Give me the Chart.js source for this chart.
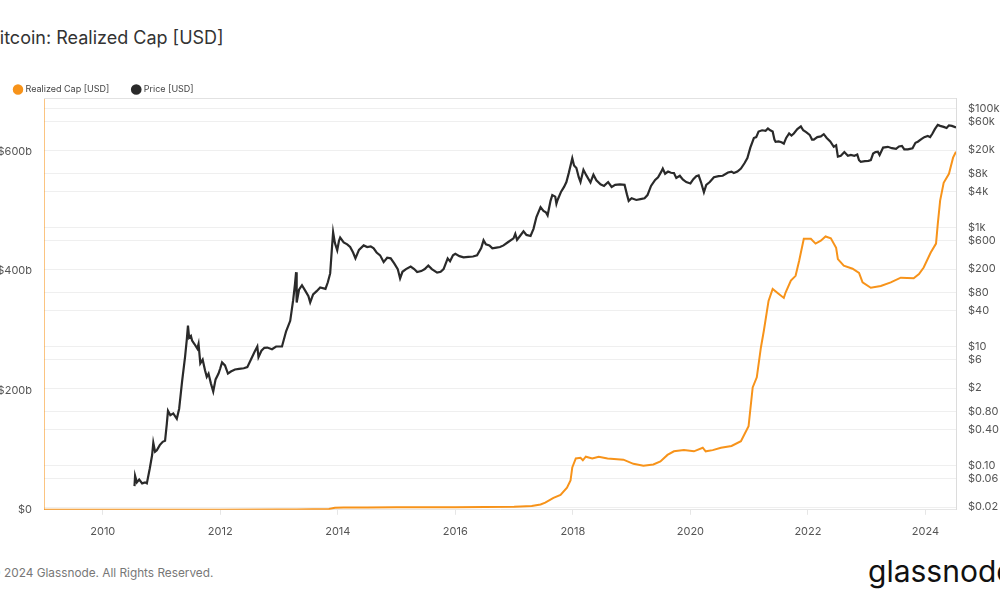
<!DOCTYPE html>
<html>
<head>
<meta charset="utf-8">
<script src="https://cdn.jsdelivr.net/npm/chart.js@4.4.1/dist/chart.umd.min.js"></script>
<style>
  body { margin: 0; width: 1000px; height: 600px; overflow: hidden; background: #fff; position: relative; font-family: Inter, "Noto Sans", sans-serif; }
  #title { position: absolute; left: -12px; top: 27px; font-size: 18px; color: #333; white-space: nowrap; }
  #chartBox { position: absolute; left: 0; top: 61px; width: 1000px; height: 487px; }
  #footer { position: absolute; left: -10px; top: 566px; font-size: 11.8px; color: #777; white-space: nowrap; }
  #logo { position: absolute; left: 868px; top: 553px; font-size: 30px; color: #111; white-space: nowrap; }
</style>
</head>
<body>
<div id="title">Bitcoin: Realized Cap [USD]</div>
<div id="chartBox"><canvas id="myChart"></canvas></div>
<div id="footer">© 2024 Glassnode. All Rights Reserved.</div>
<div id="logo">glassnode</div>
<script>
// [year, USD billions]
const realizedCap = [
  [2009.0, 0], [2010.5, 0.01], [2011.4, 0.1], [2012.0, 0.15], [2013.0, 0.3], [2013.3, 0.6],
  [2013.85, 1.2], [2013.95, 3.5], [2014.1, 3.8], [2014.5, 4.0], [2015.0, 4.1], [2015.5, 4.2],
  [2016.0, 4.4], [2016.5, 4.8], [2017.0, 5.2], [2017.11, 5.6], [2017.3, 6.5], [2017.45, 9],
  [2017.53, 12], [2017.67, 20], [2017.79, 25], [2017.9, 37], [2017.96, 49], [2017.99, 71],
  [2018.05, 86], [2018.13, 87], [2018.17, 83], [2018.22, 89], [2018.33, 86], [2018.44, 89],
  [2018.59, 86], [2018.86, 84], [2019.03, 77], [2019.2, 74], [2019.37, 76], [2019.49, 81],
  [2019.61, 92], [2019.72, 98], [2019.89, 100], [2020.06, 98], [2020.21, 104], [2020.26, 98],
  [2020.38, 100], [2020.52, 104], [2020.7, 107], [2020.86, 115], [2020.99, 140], [2021.06, 205],
  [2021.13, 222], [2021.2, 272], [2021.25, 300], [2021.33, 350], [2021.4, 370], [2021.5, 362],
  [2021.59, 355], [2021.62, 364], [2021.71, 384], [2021.79, 392], [2021.85, 417], [2021.93, 454],
  [2022.05, 454], [2022.13, 446], [2022.22, 451], [2022.3, 458], [2022.39, 455], [2022.48, 439],
  [2022.51, 420], [2022.61, 409], [2022.76, 404], [2022.87, 397], [2022.93, 381], [2023.07, 372],
  [2023.24, 375], [2023.41, 381], [2023.58, 389], [2023.8, 388], [2023.89, 395], [2023.97, 406],
  [2024.09, 431], [2024.18, 446], [2024.21, 479], [2024.25, 518], [2024.31, 548], [2024.4, 563],
  [2024.47, 590], [2024.52, 600]
];

// [year, USD]
const price = [
  [2010.54, 0.045], [2010.55, 0.067], [2010.58, 0.052], [2010.62, 0.058], [2010.67, 0.05], [2010.72, 0.052],
  [2010.75, 0.05], [2010.8, 0.089], [2010.84, 0.15], [2010.86, 0.24], [2010.89, 0.17], [2010.92, 0.18],
  [2010.97, 0.22], [2011.02, 0.25], [2011.06, 0.26], [2011.09, 0.5], [2011.11, 0.83], [2011.15, 0.7],
  [2011.2, 0.75], [2011.26, 0.61], [2011.3, 0.9], [2011.35, 2.6], [2011.4, 6.6], [2011.43, 13],
  [2011.45, 22.5], [2011.47, 14], [2011.5, 15], [2011.52, 12.6], [2011.56, 11], [2011.61, 9.2],
  [2011.63, 11], [2011.66, 5.2], [2011.7, 6], [2011.74, 4], [2011.77, 3.1], [2011.8, 3.5],
  [2011.84, 2.4], [2011.88, 1.75], [2011.92, 2.8], [2011.97, 3.5], [2012.0, 4.3], [2012.03, 5.4],
  [2012.08, 4.8], [2012.13, 3.5], [2012.18, 3.8], [2012.25, 4.1], [2012.32, 4.2], [2012.4, 4.3],
  [2012.46, 4.5], [2012.52, 6], [2012.58, 8], [2012.63, 10], [2012.65, 6.6], [2012.7, 8.5],
  [2012.75, 9.5], [2012.8, 9.6], [2012.88, 9], [2012.95, 10], [2013.05, 10], [2013.12, 18],
  [2013.19, 27], [2013.24, 60], [2013.27, 110], [2013.29, 177], [2013.3, 55], [2013.34, 90],
  [2013.39, 107], [2013.45, 85], [2013.5, 70], [2013.53, 55], [2013.58, 75], [2013.64, 85],
  [2013.7, 98], [2013.79, 93], [2013.83, 120], [2013.87, 169], [2013.9, 450], [2013.92, 830],
  [2013.95, 550], [2013.99, 414], [2014.02, 600], [2014.04, 677], [2014.1, 560], [2014.16, 520],
  [2014.21, 470], [2014.26, 380], [2014.3, 303], [2014.36, 420], [2014.44, 500], [2014.5, 470],
  [2014.56, 480], [2014.61, 446], [2014.66, 380], [2014.72, 340], [2014.78, 262], [2014.84, 310],
  [2014.9, 303], [2014.96, 250], [2015.02, 200], [2015.06, 139], [2015.1, 180], [2015.16, 200],
  [2015.24, 221], [2015.3, 200], [2015.35, 178], [2015.42, 185], [2015.48, 200], [2015.54, 230],
  [2015.6, 200], [2015.69, 174], [2015.75, 180], [2015.8, 200], [2015.87, 303], [2015.91, 270],
  [2015.96, 340], [2016.0, 360], [2016.07, 330], [2016.14, 315], [2016.22, 320], [2016.3, 325],
  [2016.37, 340], [2016.44, 450], [2016.48, 608], [2016.52, 520], [2016.58, 500], [2016.63, 446],
  [2016.7, 460], [2016.76, 470], [2016.82, 500], [2016.9, 570], [2016.99, 656], [2017.02, 780],
  [2017.05, 620], [2017.1, 720], [2017.16, 862], [2017.21, 750], [2017.28, 720], [2017.33, 950],
  [2017.38, 1500], [2017.45, 2200], [2017.5, 1900], [2017.54, 1800], [2017.57, 1600], [2017.62, 2800],
  [2017.65, 3500], [2017.7, 3300], [2017.72, 2500], [2017.74, 2900], [2017.8, 4000], [2017.85, 4800],
  [2017.89, 5800], [2017.93, 8200], [2017.97, 12000], [2017.99, 14600], [2018.02, 11000], [2018.06, 10000],
  [2018.1, 7000], [2018.13, 5800], [2018.18, 9300], [2018.23, 7500], [2018.3, 5700], [2018.35, 7700],
  [2018.4, 6200], [2018.47, 5300], [2018.53, 5000], [2018.6, 5800], [2018.66, 4800], [2018.72, 5200],
  [2018.8, 5300], [2018.88, 5200], [2018.92, 3600], [2018.95, 2800], [2019.0, 3100], [2019.08, 2900],
  [2019.15, 3000], [2019.22, 3100], [2019.27, 3500], [2019.33, 5000], [2019.4, 6300], [2019.45, 7000],
  [2019.5, 8500], [2019.53, 9800], [2019.57, 8000], [2019.62, 8700], [2019.67, 8300], [2019.72, 8200],
  [2019.76, 6800], [2019.82, 7400], [2019.87, 6400], [2019.93, 5800], [2020.0, 5500], [2020.05, 6500],
  [2020.1, 7300], [2020.14, 7500], [2020.18, 5800], [2020.23, 3900], [2020.27, 5200], [2020.33, 5800],
  [2020.4, 7000], [2020.48, 7300], [2020.55, 7400], [2020.64, 8400], [2020.7, 8700], [2020.74, 8200],
  [2020.8, 8700], [2020.86, 9800], [2020.92, 12000], [2020.97, 14700], [2021.02, 22000], [2021.08, 31800],
  [2021.12, 33000], [2021.16, 41000], [2021.22, 43000], [2021.28, 42000], [2021.32, 46000], [2021.36, 43000],
  [2021.4, 41000], [2021.43, 30000], [2021.45, 27600], [2021.5, 28000], [2021.55, 27000], [2021.59, 25700],
  [2021.63, 32000], [2021.68, 38000], [2021.72, 35000], [2021.76, 38000], [2021.82, 45000], [2021.88, 50000],
  [2021.92, 43000], [2021.97, 40000], [2022.03, 36000], [2022.07, 30000], [2022.1, 30000], [2022.16, 33000],
  [2022.22, 34000], [2022.27, 37000], [2022.32, 32000], [2022.38, 28000], [2022.44, 22700], [2022.48, 24000],
  [2022.51, 15500], [2022.56, 16000], [2022.62, 18500], [2022.68, 16000], [2022.73, 16600], [2022.79, 16000],
  [2022.84, 16800], [2022.87, 13500], [2022.9, 12700], [2022.97, 13000], [2023.03, 13200], [2023.07, 13600],
  [2023.11, 17500], [2023.15, 18500], [2023.19, 18800], [2023.22, 16500], [2023.28, 22000], [2023.36, 22700],
  [2023.43, 21500], [2023.5, 21000], [2023.55, 23000], [2023.6, 23500], [2023.64, 20500], [2023.7, 20500],
  [2023.78, 21500], [2023.83, 26500], [2023.87, 27600], [2023.93, 30500], [2023.98, 33000], [2024.04, 34500],
  [2024.08, 33000], [2024.12, 38000], [2024.16, 45000], [2024.21, 53000], [2024.25, 51000], [2024.31, 49000],
  [2024.36, 47000], [2024.4, 52000], [2024.45, 51000], [2024.52, 48000]
];

const yearTicks = [2010, 2012, 2014, 2016, 2018, 2020, 2022, 2024];
const capTicks = [0, 200, 400, 600];
const priceTicks = [100000, 60000, 20000, 8000, 4000, 1000, 600, 200, 80, 40, 10, 6, 2, 0.8, 0.4, 0.1, 0.06, 0.02];

const toPoints = (rows) => rows.map(([x, y]) => ({ x: x, y: y }));

function fmtPrice(v) {
  if (v >= 1000) return "$" + v / 1000 + "k";
  if (v >= 1) return "$" + v;
  return "$" + v.toFixed(2);
}

// thin frame line along the top of the plot
const topLine = {
  id: "topLine",
  beforeDatasetsDraw(chart) {
    const { ctx, chartArea } = chart;
    ctx.save();
    ctx.strokeStyle = "#e2e2e2";
    ctx.lineWidth = 1;
    ctx.beginPath();
    ctx.moveTo(chartArea.left, chartArea.top + 0.5);
    ctx.lineTo(chartArea.right, chartArea.top + 0.5);
    ctx.stroke();
    ctx.restore();
  },
};

// fixed legend height and a small nudge to the left
const legendBox = {
  id: "legendBox",
  beforeInit(chart) {
    const fit = chart.legend.fit;
    chart.legend.fit = function () {
      fit.call(this);
      this.height = 37;
    };
  },
  afterLayout(chart) {
    chart.legend.left -= 9;
  },
};

const tickFont = { family: "Inter, 'Noto Sans', sans-serif", size: 11 };

new Chart(document.getElementById("myChart"), {
  type: "line",
  data: {
    datasets: [
      {
        label: "Realized Cap [USD]",
        data: toPoints(realizedCap),
        yAxisID: "y",
        borderColor: "#f7931a",
        backgroundColor: "#f7931a",
        borderWidth: 2,
        pointRadius: 0,
      },
      {
        label: "Price [USD]",
        data: toPoints(price),
        yAxisID: "y1",
        borderColor: "#2a2a2a",
        backgroundColor: "#2a2a2a",
        borderWidth: 2.2,
        pointRadius: 0,
      },
    ],
  },
  options: {
    responsive: true,
    maintainAspectRatio: false,
    animation: false,
    layout: { padding: 0 },
    plugins: {
      legend: {
        display: true,
        position: "top",
        align: "start",
        labels: {
          usePointStyle: true,
          pointStyle: "circle",
          boxWidth: 6,
          boxHeight: 6,
          padding: 24,
          color: "#444",
          font: { family: "Inter, 'Noto Sans', sans-serif", size: 9 },
        },
      },
      tooltip: { enabled: false },
    },
    scales: {
      x: {
        type: "linear",
        min: 2009,
        max: 2024.52,
        afterBuildTicks: (scale) => { scale.ticks = yearTicks.map((v) => ({ value: v })); },
        ticks: { color: "#555", font: tickFont, padding: 10, callback: (v) => String(v) },
        grid: { drawOnChartArea: false, drawTicks: true, tickLength: 5, color: "#e6e6e6" },
        border: { color: "#e6e6e6" },
      },
      y: {
        type: "linear",
        position: "left",
        min: 0,
        max: 690,
        afterBuildTicks: (scale) => { scale.ticks = capTicks.map((v) => ({ value: v })); },
        afterFit: (scale) => { scale.width = 44; },
        ticks: { color: "#555", font: tickFont, padding: 12, callback: (v) => (v === 0 ? "$0" : "$" + v + "b") },
        grid: { display: false, drawTicks: false },
        border: { color: "rgba(247,147,26,0.55)" },
      },
      y1: {
        type: "logarithmic",
        position: "right",
        min: 0.018,
        max: 150000,
        afterBuildTicks: (scale) => { scale.ticks = priceTicks.map((v) => ({ value: v })); },
        afterFit: (scale) => { scale.width = 44; },
        ticks: { color: "#555", font: tickFont, padding: 12, autoSkip: false, callback: (v) => fmtPrice(v) },
        grid: { color: "#efefef", drawTicks: false },
        border: { color: "#dcdcdc" },
      },
    },
  },
  plugins: [topLine, legendBox],
});
</script>
</body>
</html>
